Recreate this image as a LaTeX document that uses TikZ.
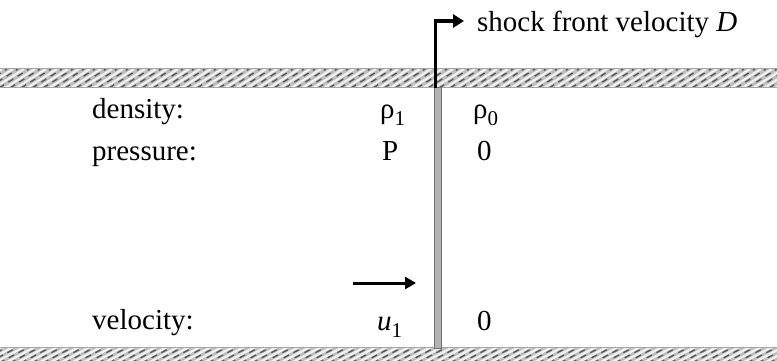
\documentclass[tikz,border=0pt]{standalone}
\usepackage{fontspec}
\setmainfont{Liberation Serif}
\usetikzlibrary{arrows.meta}
\newcommand\subs[1]{\raisebox{-0.25em}{\fontsize{21}{21}\selectfont #1}}
\begin{document}
\begin{tikzpicture}[x=1pt,y=-1pt,
  font=\fontsize{29}{34}\selectfont,
  lbl/.style={anchor=base west, inner sep=0pt},
  wallband/.style={fill=gray!50, draw=gray!70, line width=1pt},
  hatchlight/.style={white!90!gray, line width=2.2pt},
  hatchdark/.style={black!65, line width=1.4pt, dash pattern=on 6pt off 5pt},
  shockline/.style={fill=gray!60, draw=gray!90!black, line width=1pt},
  bigarrow/.style={line width=3.5pt, -{Triangle[length=11pt,width=13pt]}}]
\useasboundingbox (0,0) rectangle (777,361);
\fill[white] (0,0) rectangle (777,361);
% walls
\foreach \ya/\yb in {69/88, 347/363} {
  \path[wallband] (-2,\ya) rectangle (779,\yb);
  \begin{scope}
    \clip (0,\ya) rectangle (777,\yb);
    \foreach \x in {-50,-39,...,790} {
      \draw[hatchlight] (\x,\yb) -- (\x+30,\ya);
      \draw[hatchdark] (\x+5,\yb) -- (\x+35,\ya);
    }
  \end{scope}
  \draw[gray!70, line width=1pt] (0,\ya) -- (777,\ya) (0,\yb) -- (777,\yb);
}
% shock front
\path[shockline] (434,88) rectangle (441,348);
% shock front velocity arrow
\coordinate (sbase) at (435.5,88);
\coordinate (stip) at (464,21);
\draw[bigarrow] (sbase) |- (stip);
\node[lbl] (stext) at (477,32) {shock front velocity \textit{D}};
% labels
\node[lbl] (dens) at (92,118) {density:};
\node[lbl] (pres) at (92,160) {pressure:};
\node[lbl] (velo) at (92,329) {velocity:};
\node[lbl] (rho1) at (380,118) {ρ\subs{1}};
\node[lbl] (pp) at (382,160) {P};
\node[lbl] (u1) at (377,330) {\textit{u}\subs{1}};
\node[lbl] (rho0) at (473,118) {ρ\subs{0}};
\node[lbl] (p0) at (477,160) {0};
\node[lbl] (v0) at (477,330) {0};
% flow velocity arrow
\coordinate (va) at (353,283);
\coordinate (vb) at (416,283);
\draw[line width=3pt, -{Triangle[length=11pt,width=12pt]}] (va) -- (vb);
\end{tikzpicture}
\end{document}
